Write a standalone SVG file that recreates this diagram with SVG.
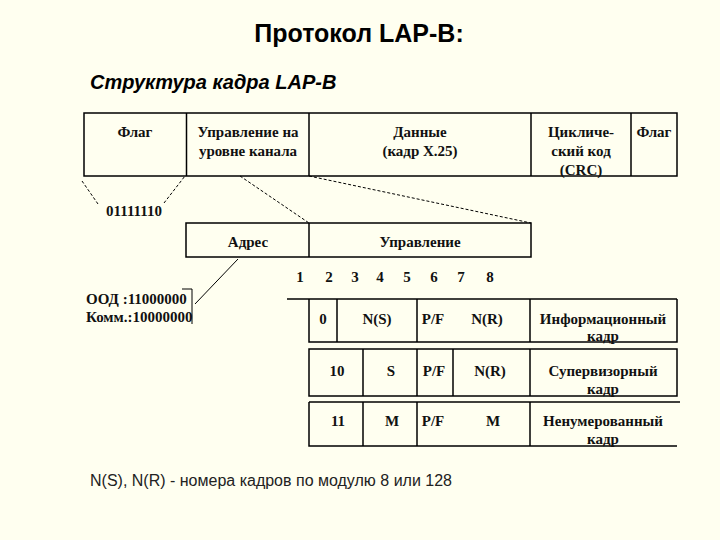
<svg xmlns="http://www.w3.org/2000/svg" width="720" height="540" viewBox="0 0 720 540">
<style>
.bx{fill:none;stroke:#000;stroke-width:1.5}
.ln{stroke:#000;stroke-width:1.5;fill:none}
.ds{stroke:#000;stroke-width:1;stroke-dasharray:3,2;fill:none}
.sl{stroke:#000;stroke-width:1;fill:none}
.t{font-family:"Liberation Serif","Times New Roman",serif;font-weight:bold;font-size:15px;fill:#111;text-anchor:middle}
.tl{font-family:"Liberation Serif","Times New Roman",serif;font-weight:bold;font-size:15px;fill:#111}
</style>
<rect width="720" height="540" fill="#FFFFF0"/>
<text x="359" y="42" font-family="'Liberation Sans',Arial,sans-serif" font-weight="bold" font-size="25" text-anchor="middle" fill="#000">Протокол LAP-B:</text>
<text x="90" y="89" font-family="'Liberation Sans',Arial,sans-serif" font-weight="bold" font-style="italic" font-size="20" fill="#000">Структура кадра LAP-B</text>

<g id="frame">
<rect class="bx" x="84" y="113" width="593" height="63"/>
<line class="ln" x1="186.5" y1="113" x2="186.5" y2="176"/>
<line class="ln" x1="309" y1="113" x2="309" y2="176"/>
<line class="ln" x1="531" y1="113" x2="531" y2="176"/>
<line class="ln" x1="631" y1="113" x2="631" y2="176"/>
<text class="t" x="135" y="137">Флаг</text>
<text class="t" x="248" y="137">Управление на</text>
<text class="t" x="248" y="156">уровне канала</text>
<text class="t" x="420" y="137">Данные</text>
<text class="t" x="420" y="156">(кадр X.25)</text>
<text class="t" x="581" y="137">Цикличе-</text>
<text class="t" x="581" y="156">ский код</text>
<text class="t" x="581" y="175">(CRC)</text>
<text class="t" x="654" y="137">Флаг</text>
</g>

<g id="flag-value">
<text class="t" x="134" y="216">01111110</text>
</g>

<g id="control-field">
<rect class="bx" x="186" y="223" width="345" height="34"/>
<line class="ln" x1="309" y1="223" x2="309" y2="257"/>
<text class="t" x="248" y="247">Адрес</text>
<text class="t" x="420" y="247">Управление</text>
</g>

<g id="address-values">
<text class="tl" x="86" y="304">ООД  :11000000</text>
<text class="tl" x="86" y="322">Комм.:10000000</text>
<polyline class="sl" points="182,289 192,289 192,324"/>
</g>

<g id="bits">
<text class="t" x="300" y="282">1</text>
<text class="t" x="329" y="282">2</text>
<text class="t" x="355" y="282">3</text>
<text class="t" x="380" y="282">4</text>
<text class="t" x="407" y="282">5</text>
<text class="t" x="434" y="282">6</text>
<text class="t" x="461" y="282">7</text>
<text class="t" x="490" y="282">8</text>
</g>

<g id="info-frame">
<line class="ln" x1="287" y1="299" x2="677" y2="299"/>
<polyline class="ln" points="309,299 309,342 677,342 677,299"/>
<line class="ln" x1="337" y1="299" x2="337" y2="342"/>
<line class="ln" x1="417" y1="299" x2="417" y2="342"/>
<line class="ln" x1="530" y1="299" x2="530" y2="342"/>
<text class="t" x="323" y="324">0</text>
<text class="t" x="377" y="324">N(S)</text>
<text class="t" x="433" y="324">P/F</text>
<text class="t" x="487" y="324">N(R)</text>
<text class="t" x="603" y="324">Информационный</text>
<text class="t" x="603" y="341">кадр</text>
</g>

<g id="supervisory-frame">
<rect class="bx" x="309" y="349" width="368" height="47"/>
<line class="ln" x1="363" y1="349" x2="363" y2="396"/>
<line class="ln" x1="417" y1="349" x2="417" y2="396"/>
<line class="ln" x1="453" y1="349" x2="453" y2="396"/>
<line class="ln" x1="530" y1="349" x2="530" y2="396"/>
<text class="t" x="337" y="376">10</text>
<text class="t" x="391" y="376">S</text>
<text class="t" x="434" y="376">P/F</text>
<text class="t" x="490" y="376">N(R)</text>
<text class="t" x="603" y="376">Супервизорный</text>
<text class="t" x="603" y="394">кадр</text>
</g>

<g id="unnumbered-frame">
<line class="ln" x1="309" y1="402" x2="680" y2="402"/>
<polyline class="ln" points="309,402 309,446 677,446"/>
<line class="ln" x1="363" y1="402" x2="363" y2="446"/>
<line class="ln" x1="417" y1="402" x2="417" y2="446"/>
<line class="ln" x1="530" y1="402" x2="530" y2="446"/>
<text class="t" x="338" y="426">11</text>
<text class="t" x="392" y="426">M</text>
<text class="t" x="433" y="426">P/F</text>
<text class="t" x="493" y="426">M</text>
<text class="t" x="603" y="426">Ненумерованный</text>
<text class="t" x="603" y="444">кадр</text>
</g>

<g id="connectors">
<line class="ds" x1="82" y1="181" x2="98" y2="204"/>
<line class="ds" x1="164" y1="203" x2="185" y2="176"/>
<line class="ds" x1="240" y1="176" x2="309" y2="223"/>
<line class="ds" x1="309" y1="176" x2="531" y2="223"/>
<line class="sl" x1="238" y1="259" x2="195" y2="304"/>
</g>

<g id="note">
<text x="90" y="486" font-family="'Liberation Sans',Arial,sans-serif" font-size="16" fill="#222">N(S), N(R) - номера кадров по модулю 8 или 128</text>
</g>
</svg>
